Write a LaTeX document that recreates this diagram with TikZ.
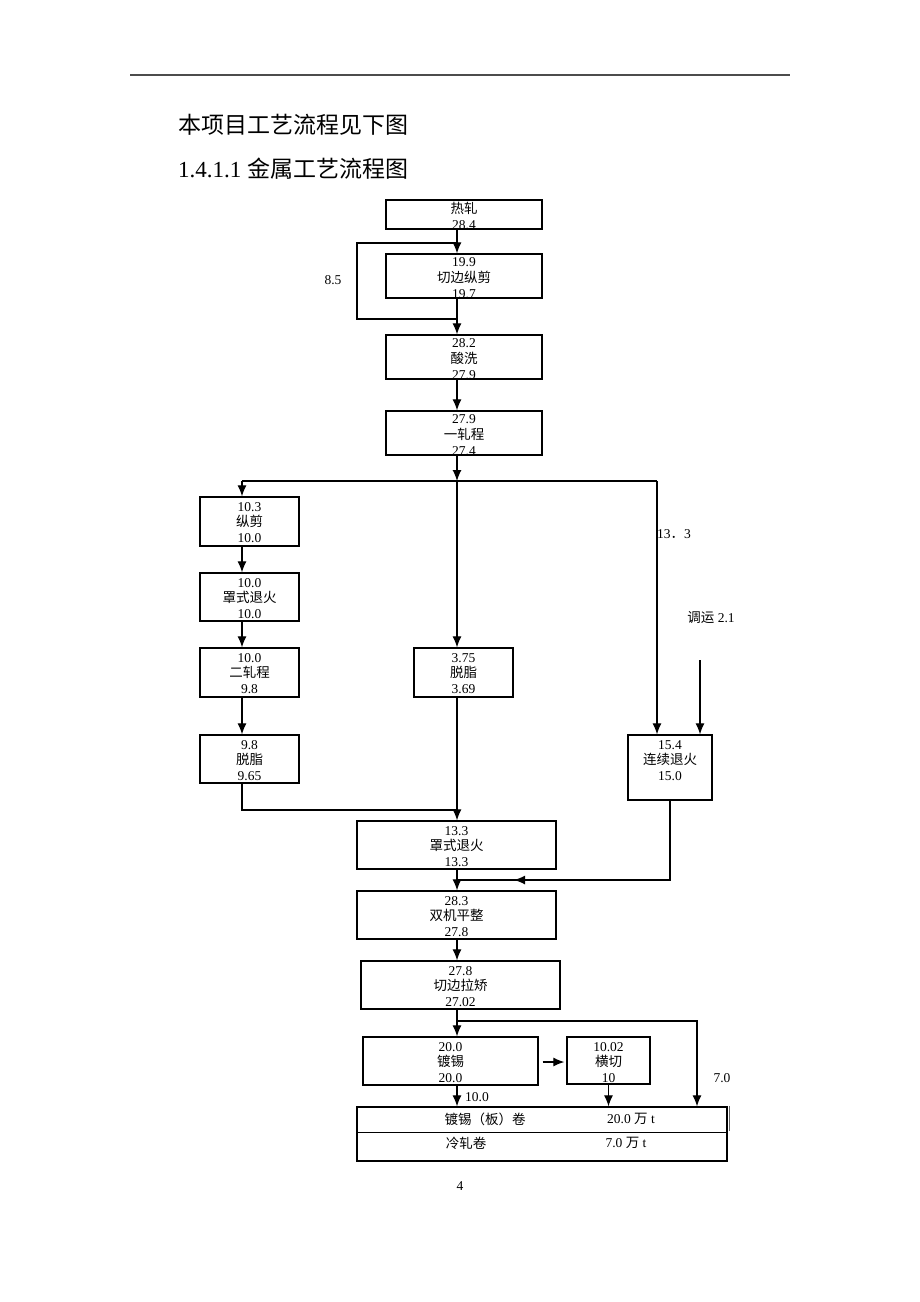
\documentclass[tikz,border=0pt]{standalone}
\usepackage{fontspec}
\setmainfont{Liberation Serif}
\newfontfamily\cjk{Noto Sans CJK SC}
\usepackage{tikz}
\usetikzlibrary{calc}
\usetikzlibrary{arrows.meta}
\usetikzlibrary{positioning}

\tikzset{
  box/.style 2 args={rectangle, draw=black, line width=1.3pt, align=center, inner sep=0pt,
    font=\fontsize{13.5}{15.8}\selectfont, minimum width=#1,
    text height=45.6pt, text depth=\dimexpr #2pt-45.6pt\relax},
  flat/.style={text height=#1pt, text depth=0pt},
  arr/.style={-{Latex[length=11pt,width=9pt]}, line width=1.2pt},
  wire/.style={line width=1.2pt},
  lbl/.style={inner sep=0pt, font=\fontsize{13.5}{15.8}\selectfont},
  head/.style={anchor=west, inner sep=0pt, font=\fontsize{23}{27}\selectfont}
}

\begin{document}
\begin{tikzpicture}[x=1pt, y=-1pt]
\useasboundingbox (0,0) rectangle (920,1302);
\fill [white] (0,0) rectangle (920,1302);
\draw [line width=2pt, black!70] (130,75) -- (790,75);
\node [head] (intro) at (178,125) {\cjk 本项目工艺流程见下图};
\node [head] (title) at (178,169) {1.4.1.1 {\cjk 金属工艺流程图}};

% main line
\node [box={156}{29}, flat=29] (hot) at (464,214.5) {{\cjk 热轧}\\28.4};
\node [box={156}{44}, flat=44] (cut) at (464,276) {19.9\\{\cjk 切边纵剪}\\19.7};
\node [box={156}{44}, flat=44] (pick) at (464,357) {28.2\\{\cjk 酸洗}\\27.9};
\node [box={156}{44}, flat=44] (roll1) at (464,433) {27.9\\{\cjk 一轧程}\\27.4};
% left branch
\node [box={99}{49}] (slit) at (249.5,521.5) {10.3\\{\cjk 纵剪}\\10.0};
\node [box={99}{48}] (bann1) at (249.5,597) {10.0\\{\cjk 罩式退火}\\10.0};
\node [box={99}{49}] (roll2) at (249.5,672.5) {10.0\\{\cjk 二轧程}\\9.8};
\node [box={99}{48}] (degL) at (249.5,759) {9.8\\{\cjk 脱脂}\\9.65};
% middle and right
\node [box={99}{49}] (degM) at (463.5,672.5) {3.75\\{\cjk 脱脂}\\3.69};
\node [box={84}{65}] (cann) at (670,767.5) {15.4\\{\cjk 连续退火}\\15.0};
% lower line
\node [box={199}{48}] (bann2) at (456.5,845) {13.3\\{\cjk 罩式退火}\\13.3};
\node [box={199}{48}] (temper) at (456.5,915) {28.3\\{\cjk 双机平整}\\27.8};
\node [box={199}{48}] (tension) at (460.5,985) {27.8\\{\cjk 切边拉矫}\\27.02};
\node [box={175}{48}] (tin) at (450.5,1061) {20.0\\{\cjk 镀锡}\\20.0};
\node [box={83}{47}] (shear) at (608.5,1060.5) {10.02\\{\cjk 横切}\\10};
\node [rectangle, draw=black, line width=1.3pt, inner sep=0pt, minimum width=370, minimum height=54] (stock) at (542,1134) {};

\coordinate (spine) at (457,0);
\coordinate (lcol) at (242,0);

% top part with bypass
\draw [arr] (hot.south -| spine) -- (cut.north -| spine);
\coordinate (byin) at (457,243);
\coordinate (byout) at (457,319);
\draw [wire] (byin) -- (357,243) -- (357,319) -- (byout);
\node [lbl] (bylbl) at (333,280) {8.5};
\draw [arr] (cut.south -| spine) -- (pick.north -| spine);
\draw [arr] (pick.south -| spine) -- (roll1.north -| spine);

% split into three
\coordinate (split) at (457,481);
\coordinate (rsplit) at (657,481);
\draw [arr] (roll1.south -| spine) -- (split);
\draw [wire] (split -| lcol) -- (rsplit);
\draw [arr] (split -| lcol) -- (slit.north -| lcol);
\draw [arr] (split) -- (degM.north -| spine);
\draw [arr] (rsplit) -- (rsplit |- cann.north);
\node [lbl] (l133) at (674,534) {13{\cjk ．}3};
\node [lbl] (ltrans) at (711,618) {{\cjk 调运} 2.1};
\coordinate (trans) at (700,660);
\draw [arr] (trans) -- (trans |- cann.north);

\draw [arr] (slit.south -| lcol) -- (bann1.north -| lcol);
\draw [arr] (bann1.south -| lcol) -- (roll2.north -| lcol);
\draw [arr] (roll2.south -| lcol) -- (degL.north -| lcol);

% merge
\coordinate (merge) at (457,810);
\draw [wire] (degL.south -| lcol) |- (merge);
\draw [arr] (degM.south -| spine) -- (bann2.north -| spine);
\draw [arr] (bann2.south -| spine) -- (temper.north -| spine);
\coordinate (join) at (457,880);
\draw [wire] (cann.south) |- (join);
\draw [arr] (cann.south |- join) -- ($(join)+(57,0)$);
\draw [arr] (temper.south -| spine) -- (tension.north -| spine);

% finishing
\coordinate (fork) at (457,1021);
\coordinate (cold) at (697,1021);
\draw [arr] (tension.south -| spine) -- (tin.north -| spine);
\draw [arr] (fork) -- (cold) -- (cold |- stock.north);
\node [lbl] (l70) at (722,1078) {7.0};
\draw [arr, shorten <=4pt, shorten >=2pt] (tin.east |- 0,1062) -- (shear.west |- 0,1062);
\draw [arr] (tin.south -| spine) -- (stock.north -| spine);
\node [lbl] (l100) at (477,1097) {10.0};
\draw [arr] (shear.south) -- (shear.south |- stock.north);

% product table
\coordinate (rowsep) at (357,1132);
\draw [line width=0.8pt] (rowsep) -- (rowsep -| stock.east);
\draw [line width=1pt, black!60] ($(stock.north east)+(2,0)$) -- ($(stock.north east)+(2,25)$);
\node [lbl] (r1a) at (485,1119) {\cjk 镀锡（板）卷};
\node [lbl] (r1b) at (631,1119) {20.0 {\cjk 万} t};
\node [lbl] (r2a) at (466,1143) {\cjk 冷轧卷};
\node [lbl] (r2b) at (626,1143) {7.0 {\cjk 万} t};
\node [lbl] (page) at (460,1186) {4};
\end{tikzpicture}
\end{document}
